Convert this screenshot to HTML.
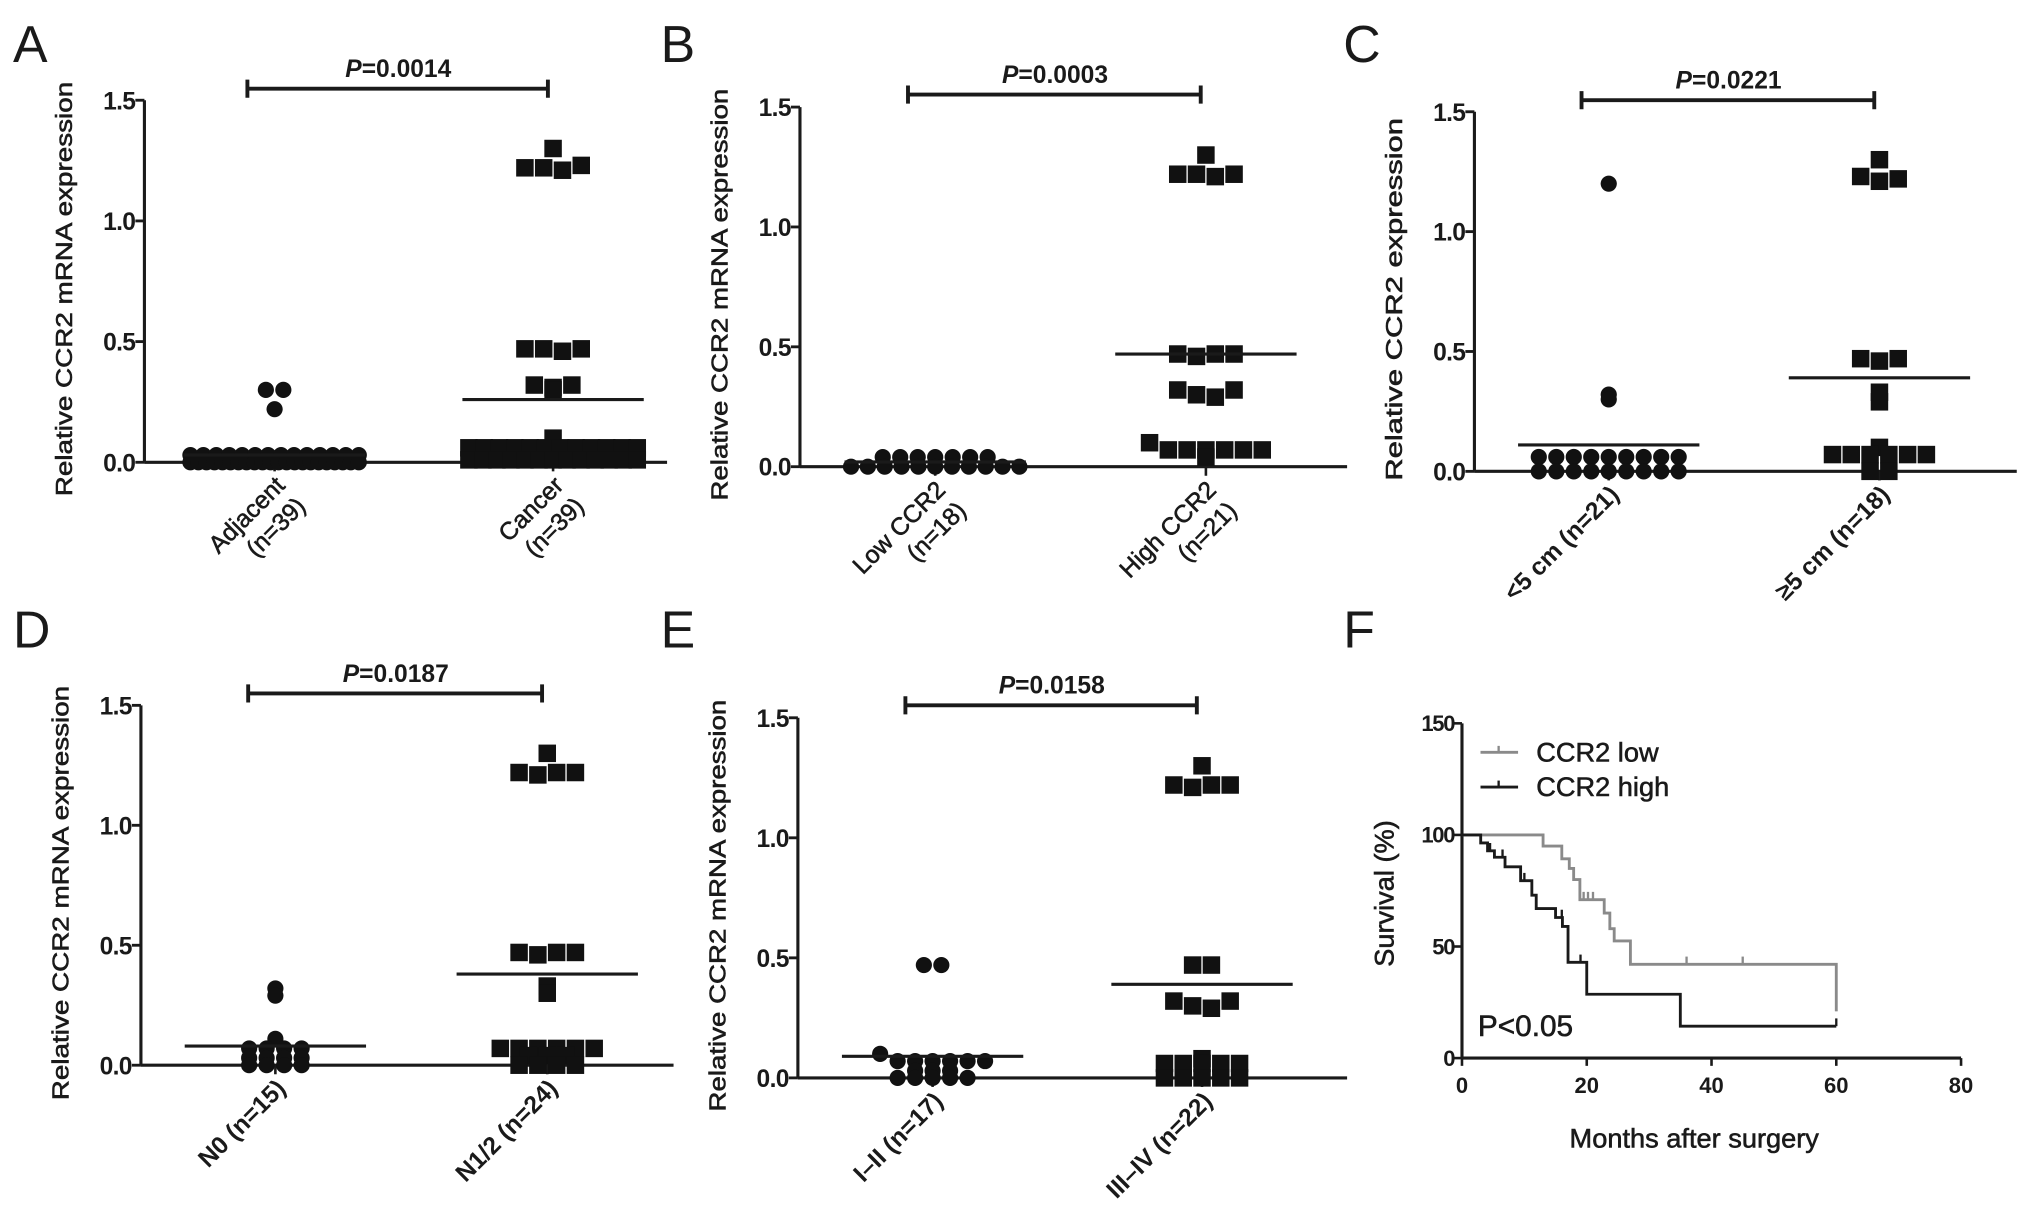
<!DOCTYPE html>
<html><head><meta charset="utf-8"><style>
html,body{margin:0;padding:0;background:#fff}
svg{display:block}
text{font-family:"Liberation Sans",Arial,sans-serif;fill:#1a1a1a}
.th{stroke:#1a1a1a;stroke-width:0.45}
</style></head><body>
<svg id="fig" xmlns="http://www.w3.org/2000/svg" width="2031" height="1225" viewBox="0 0 1568 946" preserveAspectRatio="none"></svg>
<script>
// ---- data ----
const yTicks = [0, 0.5, 1.0, 1.5];
const yTickLabels = ["0.0", "0.5", "1.0", "1.5"];
const rep = (v, n) => Array(n).fill(v);
const A_adj = [0.30,0.30,0.22].concat(rep(0.03,14), rep(0.0,22));
const A_can = [1.30,1.22,1.22,1.21,1.23,0.47,0.47,0.46,0.47,0.32,0.30,0.31,0.32,0.10].concat(rep(0.06,12), rep(0.01,13));
const B_low = rep(0.04,7).concat(rep(0.0,11));
const B_high = [1.30,1.22,1.22,1.21,1.22,0.47,0.46,0.47,0.47,0.32,0.30,0.29,0.32,0.10].concat(rep(0.07,6),[0.04]);
const C_small = [1.20,0.32,0.30].concat(rep(0.06,9), rep(0.0,9));
const C_large = [1.30,1.23,1.21,1.22,0.47,0.46,0.47,0.33,0.29,0.10].concat(rep(0.07,6), rep(0.0,2));
const D_n0 = [0.32,0.29,0.11].concat(rep(0.07,4), rep(0.03,4), rep(0.0,4));
const D_n12 = [1.30,1.22,1.21,1.22,1.22,0.47,0.46,0.47,0.47,0.33,0.30].concat(rep(0.07,6), rep(0.04,3), rep(0.0,4));
const E_early = [0.47,0.47,0.10].concat(rep(0.07,6), rep(0.03,3), rep(0.0,5));
const E_late = [1.30,1.22,1.21,1.22,1.22,0.47,0.47,0.32,0.30,0.29,0.32,0.08].concat(rep(0.06,5), rep(0.0,5));
const meansA = [0.03,0.26], meansB = [0.02,0.47], meansC = [0.11,0.39], meansD = [0.08,0.38], meansE = [0.09,0.39];
const pA = "0.0014", pB = "0.0003", pC = "0.0221", pD = "0.0187", pE = "0.0158";
// survival (panel F)
const lowTimes = [13,16,17.2,17.9,18.9,22.8,23.7,24.4,27,60];
const lowSurv  = [95,89.3,85,80,71,65,58,52.5,42,21];
const lowCensor = [19.5,20.2,21,36,45,60];
const highTimes = [3,4.1,5.2,6.9,9.4,11.2,11.9,15,16.1,17,20,35];
const highSurv  = [96.4,92.9,90,85.7,79.5,73,67,63,59,42.9,28.6,14.3];
const highCensor = [4.5,6.5,10,16,19,60];
const fXTicks = [0,20,40,60,80];
const fYTicks = [0,50,100,150];

// ---- drawing ----
const NS = "http://www.w3.org/2000/svg";
const svg = document.getElementById('fig');
function el(tag, attrs, parent, txt){
  const e = document.createElementNS(NS, tag);
  for (const k in attrs) e.setAttribute(k, attrs[k]);
  if (txt !== undefined) e.textContent = txt;
  (parent||svg).appendChild(e);
  return e;
}

function scatterPanel(cfg, g1, g2, means, pval){
  const g = el('g', {});
  
  
  const ys = v => cfg.y0 + (cfg.y15 - cfg.y0) * v / 1.5;
  const t = el('text', {x: cfg.lx, y: cfg.ly, 'font-size': 40}, g, cfg.letter);
  
  
  const ya = el('line', {x1: cfg.ax, y1: cfg.y15, x2: cfg.ax, y2: cfg.y0, stroke: '#1a1a1a', 'stroke-width': 2.4}, g);
  
  
  const xa = el('line', {x1: cfg.ax, y1: cfg.y0, x2: cfg.xEnd, y2: cfg.y0, stroke: '#1a1a1a', 'stroke-width': 2.4}, g);
  
  
  yTicks.forEach((v, i) => {
    el('line', {x1: cfg.ax - 7, y1: ys(v), x2: cfg.ax, y2: ys(v), stroke: '#1a1a1a', 'stroke-width': 2.2}, g);
    const tl = el('text', {x: cfg.ax - 7, y: ys(v) + 7, 'font-size': 19, 'font-weight': 'bold', 'text-anchor': 'end', 'letter-spacing': '-0.5'}, g, yTickLabels[i]);
    
    
  });
  [cfg.g1x, cfg.g2x].forEach(x => el('line', {x1: x, y1: cfg.y0, x2: x, y2: cfg.y0 + 7, stroke: '#1a1a1a', 'stroke-width': 2}, g));
  const yt = el('text', {x: 0, y: 0, 'font-size': 18, 'text-anchor': 'middle', class: 'th', transform: `translate(${cfg.ax - 56},${(cfg.y15 + cfg.y0) / 2 + 6}) rotate(-90)`, textLength: cfg.ytLen, lengthAdjust: 'spacingAndGlyphs'}, g, cfg.yTitle);
  
  
  const br = el('path', {d: `M${cfg.g1x - 21},${cfg.by} H${cfg.g2x - 4} M${cfg.g1x - 21},${cfg.by - 7} v14 M${cfg.g2x - 4},${cfg.by - 7} v14`, stroke: '#1a1a1a', 'stroke-width': 3, fill: 'none'}, g);
  
  
  const pt = el('text', {x: (cfg.g1x + cfg.g2x) / 2 - 12, y: cfg.by - 9, 'font-size': 19, 'font-weight': 'bold', 'text-anchor': 'middle'}, g);
  el('tspan', {'font-style': 'italic'}, pt, 'P');
  el('tspan', {}, pt, '=' + pval);
  
  
  [[g1, cfg.g1x, 'circle', 'group1-point'], [g2, cfg.g2x, 'square', 'group2-point']].forEach(([vals, cx, shape, nm]) => {
    const size = shape === 'circle' ? 12.5 : 13.5;
    const bins = {};
    vals.forEach(v => { const k = Math.round(ys(v) / 8); (bins[k] = bins[k] || []).push(v); });
    Object.keys(bins).forEach(k => {
      const arr = bins[k], n = arr.length;
      const sp = n > 1 ? Math.min(size + 1, cfg.maxW / (n - 1)) : 0;
      arr.forEach((v, i) => {
        const x = cx + (i - (n - 1) / 2) * sp, y = ys(v);
        let m;
        if (shape === 'circle') m = el('circle', {cx: x, cy: y, r: size / 2, fill: '#111'}, g);
        else m = el('rect', {x: x - size / 2, y: y - size / 2, width: size, height: size, fill: '#111'}, g);
        
        
      });
    });
  });
  [[means[0], cfg.g1x], [means[1], cfg.g2x]].forEach(([m, cx]) => {
    const ml = el('line', {x1: cx - 70, y1: ys(m), x2: cx + 70, y2: ys(m), stroke: '#1a1a1a', 'stroke-width': 2.4}, g);
    
    
  });
  [[cfg.cat1, cfg.g1x], [cfg.cat2, cfg.g2x]].forEach(([lines, cx]) => {
    lines.forEach((ln, j) => {
      const px = cx + 9 + j * 16, py = cfg.y0 + 19 + j * 16;
      const cl = el('text', {x: 0, y: 0, 'font-size': 19, 'font-weight': cfg.catBold ? 'bold' : 'normal', class: cfg.catBold ? '' : 'th', 'text-anchor': 'end', transform: `translate(${px},${py}) rotate(-45)`}, g, ln);
      
      
    });
  });
}

scatterPanel({letter:'A', lx:10, ly:48, ax:111.5, y0:357, y15:77.4, xEnd:515, g1x:212, g2x:427, by:68.5, maxW:130, ytLen:320, yTitle:'Relative CCR2 mRNA expression', cat1:['Adjacent','(n=39)'], cat2:['Cancer','(n=39)'], catBold:false}, A_adj, A_can, meansA, pA);
scatterPanel({letter:'B', lx:510, ly:48, ax:617.6, y0:360.4, y15:82.7, xEnd:1040, g1x:722, g2x:931, by:73, maxW:130, ytLen:318, yTitle:'Relative CCR2 mRNA expression', cat1:['Low CCR2','(n=18)'], cat2:['High CCR2','(n=21)'], catBold:false}, B_low, B_high, meansB, pB);
scatterPanel({letter:'C', lx:1037, ly:48, ax:1138.3, y0:364, y15:86.3, xEnd:1557, g1x:1242, g2x:1451, by:77.4, maxW:130, ytLen:280, yTitle:'Relative CCR2 expression', cat1:['<5 cm (n=21)'], cat2:['≥5 cm (n=18)'], catBold:true}, C_small, C_large, meansC, pC);
scatterPanel({letter:'D', lx:10, ly:500, ax:108.8, y0:822.6, y15:544.7, xEnd:520, g1x:212.6, g2x:422.5, by:535.5, maxW:130, ytLen:320, yTitle:'Relative CCR2 mRNA expression', cat1:['N0 (n=15)'], cat2:['N1/2 (n=24)'], catBold:true}, D_n0, D_n12, meansD, pD);
scatterPanel({letter:'E', lx:510, ly:500, ax:616, y0:832.4, y15:554.3, xEnd:1040, g1x:720, g2x:928, by:544.7, maxW:130, ytLen:318, yTitle:'Relative CCR2 mRNA expression', cat1:['I–II (n=17)'], cat2:['III–IV (n=22)'], catBold:true}, E_early, E_late, meansE, pE);

// ---- panel F ----
(function(){
  const g = el('g', {});
  
  
  const ax = 1128.7, x80 = 1514, y0 = 817.1, y150 = 558.6;
  const xs = m => ax + (x80 - ax) * m / 80;
  const ys = s => y0 + (y150 - y0) * s / 150;
  const lt = el('text', {x: 1037, y: 500, 'font-size': 40}, g, 'F');
  
  
  const ya = el('line', {x1: ax, y1: y150, x2: ax, y2: y0, stroke: '#1a1a1a', 'stroke-width': 2.4}, g);
  
  
  const xa = el('line', {x1: ax, y1: y0, x2: x80, y2: y0, stroke: '#1a1a1a', 'stroke-width': 2.4}, g);
  
  
  fYTicks.forEach(v => {
    el('line', {x1: ax - 6, y1: ys(v), x2: ax, y2: ys(v), stroke: '#1a1a1a', 'stroke-width': 2}, g);
    const tl = el('text', {x: ax - 6, y: ys(v) + 6, 'font-size': 17, 'font-weight': 'bold', 'text-anchor': 'end', 'letter-spacing': '-1'}, g, String(v));
    
    
  });
  fXTicks.forEach(v => {
    el('line', {x1: xs(v), y1: y0, x2: xs(v), y2: y0 + 6, stroke: '#1a1a1a', 'stroke-width': 2}, g);
    const tl = el('text', {x: xs(v), y: y0 + 27, 'font-size': 17, 'font-weight': 'bold', 'text-anchor': 'middle'}, g, String(v));
    
    
  });
  const xt = el('text', {x: 1308, y: 886, 'font-size': 21, 'text-anchor': 'middle', class: 'th'}, g, 'Months after surgery');
  
  
  const yt = el('text', {x: 0, y: 0, 'font-size': 21, 'text-anchor': 'middle', class: 'th', transform: `translate(1076,690) rotate(-90)`}, g, 'Survival (%)');
  
  
  function curve(times, surv, censor, color, name){
    let d = `M${xs(0)},${ys(100)}`;
    times.forEach((tm, i) => { d += ` H${xs(tm)} V${ys(surv[i])}`; });
    d += ` H${xs(60)}`;
    const p = el('path', {d, stroke: color, 'stroke-width': 2.2, fill: 'none'}, g);
    
    
    censor.forEach(c => {
      let sv = 100;
      times.forEach((tm, i) => { if (tm <= c) sv = surv[i]; });
      const ck = el('line', {x1: xs(c), y1: ys(sv) - 6, x2: xs(c), y2: ys(sv), stroke: color, 'stroke-width': 1.8}, g);
      
      
    });
  }
  curve(lowTimes, lowSurv, lowCensor, '#8a8a8a', 'ccr2-low-curve');
  curve(highTimes, highSurv, highCensor, '#1a1a1a', 'ccr2-high-curve');
  [['CCR2 low', '#8a8a8a', 581], ['CCR2 high', '#1a1a1a', 607.8]].forEach(([lab, col, y]) => {
    const le = el('g', {}, g);
    
    
    el('line', {x1: 1143, y1: y, x2: 1172, y2: y, stroke: col, 'stroke-width': 2.2}, le);
    el('line', {x1: 1157, y1: y - 5, x2: 1157, y2: y, stroke: col, 'stroke-width': 1.8}, le);
    el('text', {x: 1186, y: y + 7, 'font-size': 21, class: 'th'}, le, lab);
  });
  const pv = el('text', {x: 1141, y: 800, 'font-size': 23, class: 'th'}, g, 'P<0.05');
  
  
})();
</script>
</body></html>
